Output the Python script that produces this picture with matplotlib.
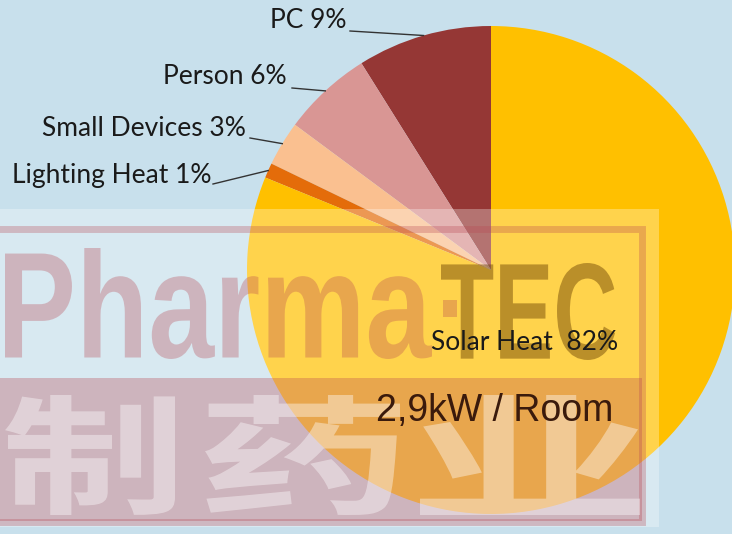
import numpy as np
import matplotlib.pyplot as plt
import matplotlib.transforms as mtransforms
from matplotlib.patches import Rectangle, PathPatch
from matplotlib.textpath import TextPath
from matplotlib.font_manager import FontProperties

# data, counter-clockwise from 12 o'clock
labels = ['PC', 'Person', 'Small Devices', 'Lighting Heat', 'Solar Heat']
shares = [9, 6, 3, 1, 82]
colors = ['#953735', '#D99694', '#FAC090', '#E46C0A', '#FFC000']
total_text = '2,9kW / Room'

W, H = 732, 534
bg = '#C8E0EC'

fig = plt.figure(figsize=(W / 100, H / 100), dpi=100)
fig.patch.set_facecolor(bg)
ax = fig.add_axes([0, 0, 1, 1])
ax.set_facecolor(bg)


def py(y):
    # pixel row (from top) -> data y
    return H - y


cx, cy, r = 491, py(270), 244
wedges, _ = ax.pie(shares, colors=colors, startangle=90, counterclock=True,
                   center=(cx, cy), radius=r, wedgeprops=dict(linewidth=0))
ax.set_xlim(0, W)
ax.set_ylim(0, H)
ax.axis('off')


# watermark overlay
def boxed_text(s, x0, x1, top, bottom, family, color, alpha, weight='normal'):
    tp = TextPath((0, 0), s, size=100, prop=FontProperties(family=family, weight=weight))
    bb = tp.get_extents()
    sx = (x1 - x0) / bb.width
    sy = (bottom - top) / bb.height
    tr = mtransforms.Affine2D().translate(-bb.x0, -bb.y0).scale(sx, sy).translate(x0, py(bottom))
    ax.add_patch(PathPatch(tr.transform_path(tp), fc=color, ec='none', alpha=alpha, zorder=3))


rose = (0.72, 0.28, 0.32)
ax.add_patch(Rectangle((0, py(527)), 659, 318, fc='white', ec='none', alpha=0.3, zorder=3))
ax.add_patch(Rectangle((-10, py(522)), 652, 293, fc='none', ec=rose, lw=5, alpha=0.3, zorder=3))
boxed_text('Pharma', 5, 432, 248, 359, 'Liberation Sans', rose, 0.32, weight='bold')
ax.add_patch(Rectangle((443, py(317)), 14, 17, fc=rose, ec='none', alpha=0.32, zorder=3))
boxed_text('TEC', 441, 615, 263, 360, 'Liberation Sans', (0.4, 0.24, 0.0), 0.45, weight='bold')
ax.add_patch(Rectangle((0, py(521)), 642, 143, fc=rose, ec='none', alpha=0.32, zorder=3))
for ch, x0, x1 in [('制', 5, 175), ('药', 205, 400), ('业', 420, 640)]:
    boxed_text(ch, x0, x1, 395, 515, 'Noto Sans CJK SC', 'white', 0.4, weight='bold')

# outside labels with leader lines to wedge middles
label_pos = [(347, 21, 350, 31), (287, 77, 292, 88), (246, 129, 250, 138), (211, 175, 213, 184)]
for w, lab, val, (tx, ty, lx, ly) in zip(wedges[:4], labels[:4], shares[:4], label_pos):
    mid = np.deg2rad((w.theta1 + w.theta2) / 2)
    ex, ey = cx + r * np.cos(mid), cy + r * np.sin(mid)
    ax.text(tx, py(ty), f'{lab} {val}%', ha='right', va='center', fontsize=19,
            family='Lato', color='#1a1a1a', zorder=5)
    ax.plot([lx, ex], [py(ly), ey], color='#333333', lw=1, zorder=5)

ax.text(431, py(343), f'{labels[4]}  {shares[4]}%', ha='left', va='center', fontsize=19,
        family='Lato', color='#1a1a1a', zorder=5)
ax.text(376, py(411), total_text, ha='left', va='center', fontsize=27,
        family='Liberation Sans', color='#3a1a0c', zorder=5)

fig.savefig('out.png', dpi=100, facecolor=bg)
